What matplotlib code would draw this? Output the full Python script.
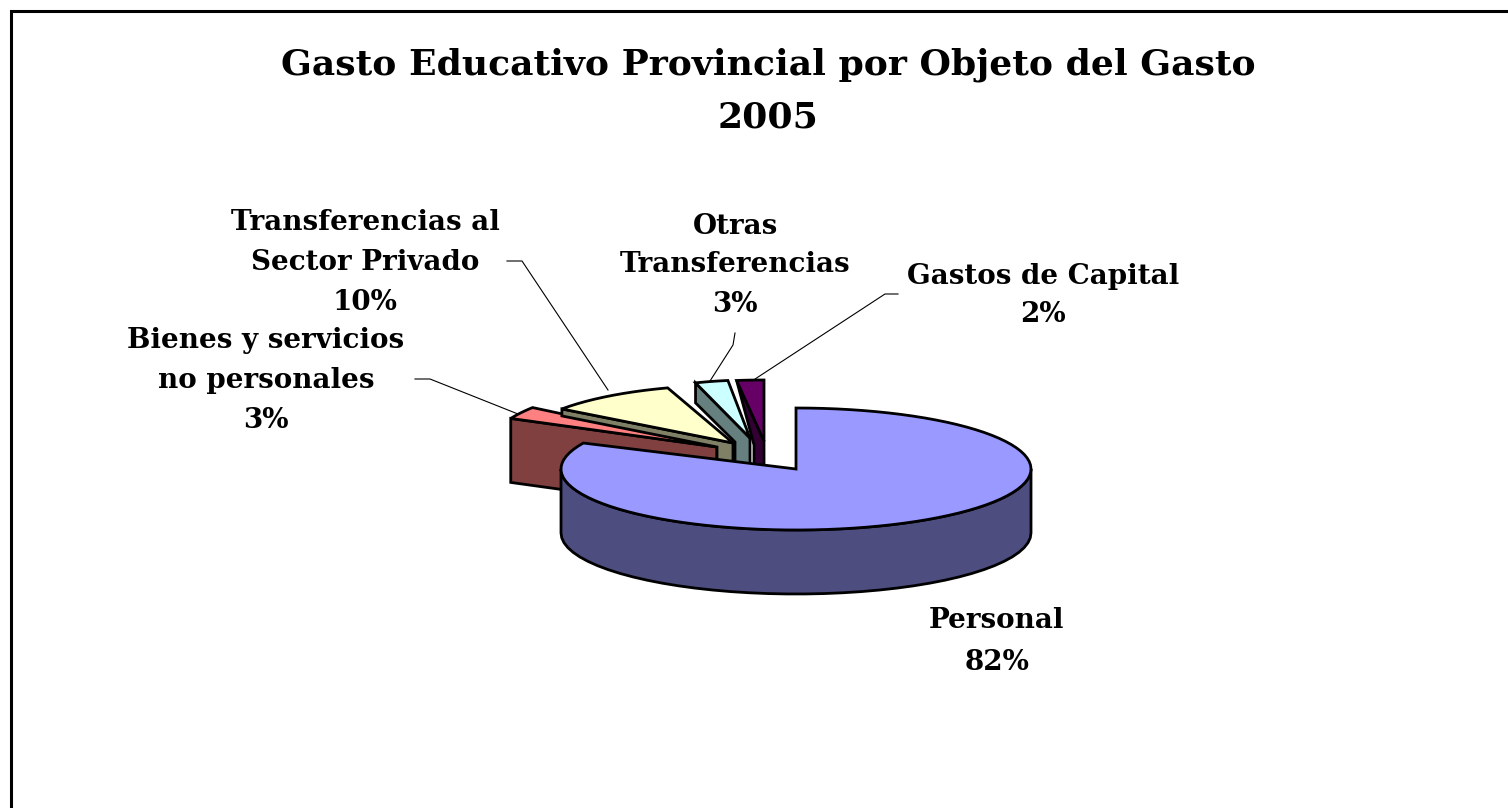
import numpy as np
import matplotlib
matplotlib.use("Agg")
import matplotlib.pyplot as plt
from matplotlib.patches import Polygon

# data
names = ["Personal", "Bienes y servicios\nno personales", "Transferencias al\nSector Privado",
         "Otras\nTransferencias", "Gastos de Capital"]
shares = [82, 3, 10, 3, 2]
title_lines = ["Gasto Educativo Provincial por Objeto del Gasto", "2005"]

top_colors = ["#9999FF", "#FF8080", "#FFFFCC", "#CCFFFF", "#660066"]
side_colors = ["#4D4D80", "#804040", "#808066", "#668080", "#330033"]

# pie geometry, in image pixels
CX, CY = 796, 469
RX, RY = 235, 61
DEPTH = 64
# apex shift, radius scale and side-face shape of each exploded slice
shift = [(0, 0), (-79, -22), (-63, -26), (-46, -31), (-32, -28)]
scale = [(1, 1), (0.97, 1.1), (0.9, 0.95), (0.75, 0.95), (0.93, 1.0)]
rim_depth = [DEPTH, DEPTH, 7, 20, 0]
inner_width = [0, 0, 16, 15, 10]

label_x = [997, 266, 365, 735, 1043]
label_y = [[620, 662], [341, 381, 420], [222, 262, 302], [226, 265, 305], [277, 315]]
leaders = [None,
           [(415, 379), (430, 379), (518, 414)],
           [(507, 261), (522, 261), (608, 390)],
           [(735, 333), (733, 345), (710, 381)],
           [(898, 294), (885, 294), (752, 381)]]

FONT = "DejaVu Serif"


def rim(cx, cy, rx, ry, start, end, n=40):
    t = np.radians(np.linspace(start, end, n))
    return np.column_stack([cx + rx * np.sin(t), cy - ry * np.cos(t)])


figure = plt.figure(figsize=(15.08, 8.08), dpi=100)
axis = figure.add_axes([0, 0, 1, 1])
axis.set_xlim(0, 1508)
axis.set_ylim(808, 0)
axis.axis("off")

axis.plot([11, 11, 1508], [808, 11, 11], color="black", lw=2.2, solid_joinstyle="miter")

for text, y in zip(title_lines, [65, 117]):
    axis.text(768, y, text, ha="center", va="center", family=FONT, weight="bold", fontsize=26)

ends = np.cumsum(shares) / np.sum(shares) * 360
starts = np.concatenate([[0], ends[:-1]])

# exploded slices first, the big one goes on top of them
for i in range(1, len(shares)):
    ax_, ay_ = CX + shift[i][0], CY + shift[i][1]
    rx, ry = RX * scale[i][0], RY * scale[i][1]
    arc = rim(ax_, ay_, rx, ry, starts[i], ends[i], n=12)
    left = arc[0]
    w = inner_width[i]
    side = [left, left + (0, rim_depth[i]), (ax_ - w, ay_ + 4),
            (ax_ - w, ay_ + DEPTH), (ax_, ay_ + DEPTH), (ax_, ay_)]
    if w == 0:
        side = [left, left + (0, rim_depth[i]), (ax_, ay_ + DEPTH), (ax_, ay_)]
    axis.add_patch(Polygon(side, closed=True, fc=side_colors[i], ec="black", lw=2, joinstyle="miter"))
    axis.add_patch(Polygon(np.vstack([[(ax_, ay_)], arc]), closed=True, fc=top_colors[i], ec="black", lw=2,
                           joinstyle="miter"))

# front wall of the main slice
front = rim(CX, CY, RX, RY, 90, 270)
wall = np.vstack([front, front[::-1] + (0, DEPTH)])
axis.add_patch(Polygon(wall, closed=True, fc=side_colors[0], ec="black", lw=2))
arc = rim(CX, CY, RX, RY, starts[0], ends[0], n=90)
axis.add_patch(Polygon(np.vstack([[(CX, CY)], arc]), closed=True, fc=top_colors[0], ec="black", lw=2,
                       joinstyle="miter"))

for i, name in enumerate(names):
    lines = name.split("\n") + [f"{shares[i]}%"]
    for text, y in zip(lines, label_y[i]):
        axis.text(label_x[i], y, text, ha="center", va="center", family=FONT, weight="bold", fontsize=20)
    if leaders[i]:
        xs, ys = zip(*leaders[i])
        axis.plot(xs, ys, color="black", lw=0.8)

figure.savefig("out.png", dpi=100)
plt.close(figure)
